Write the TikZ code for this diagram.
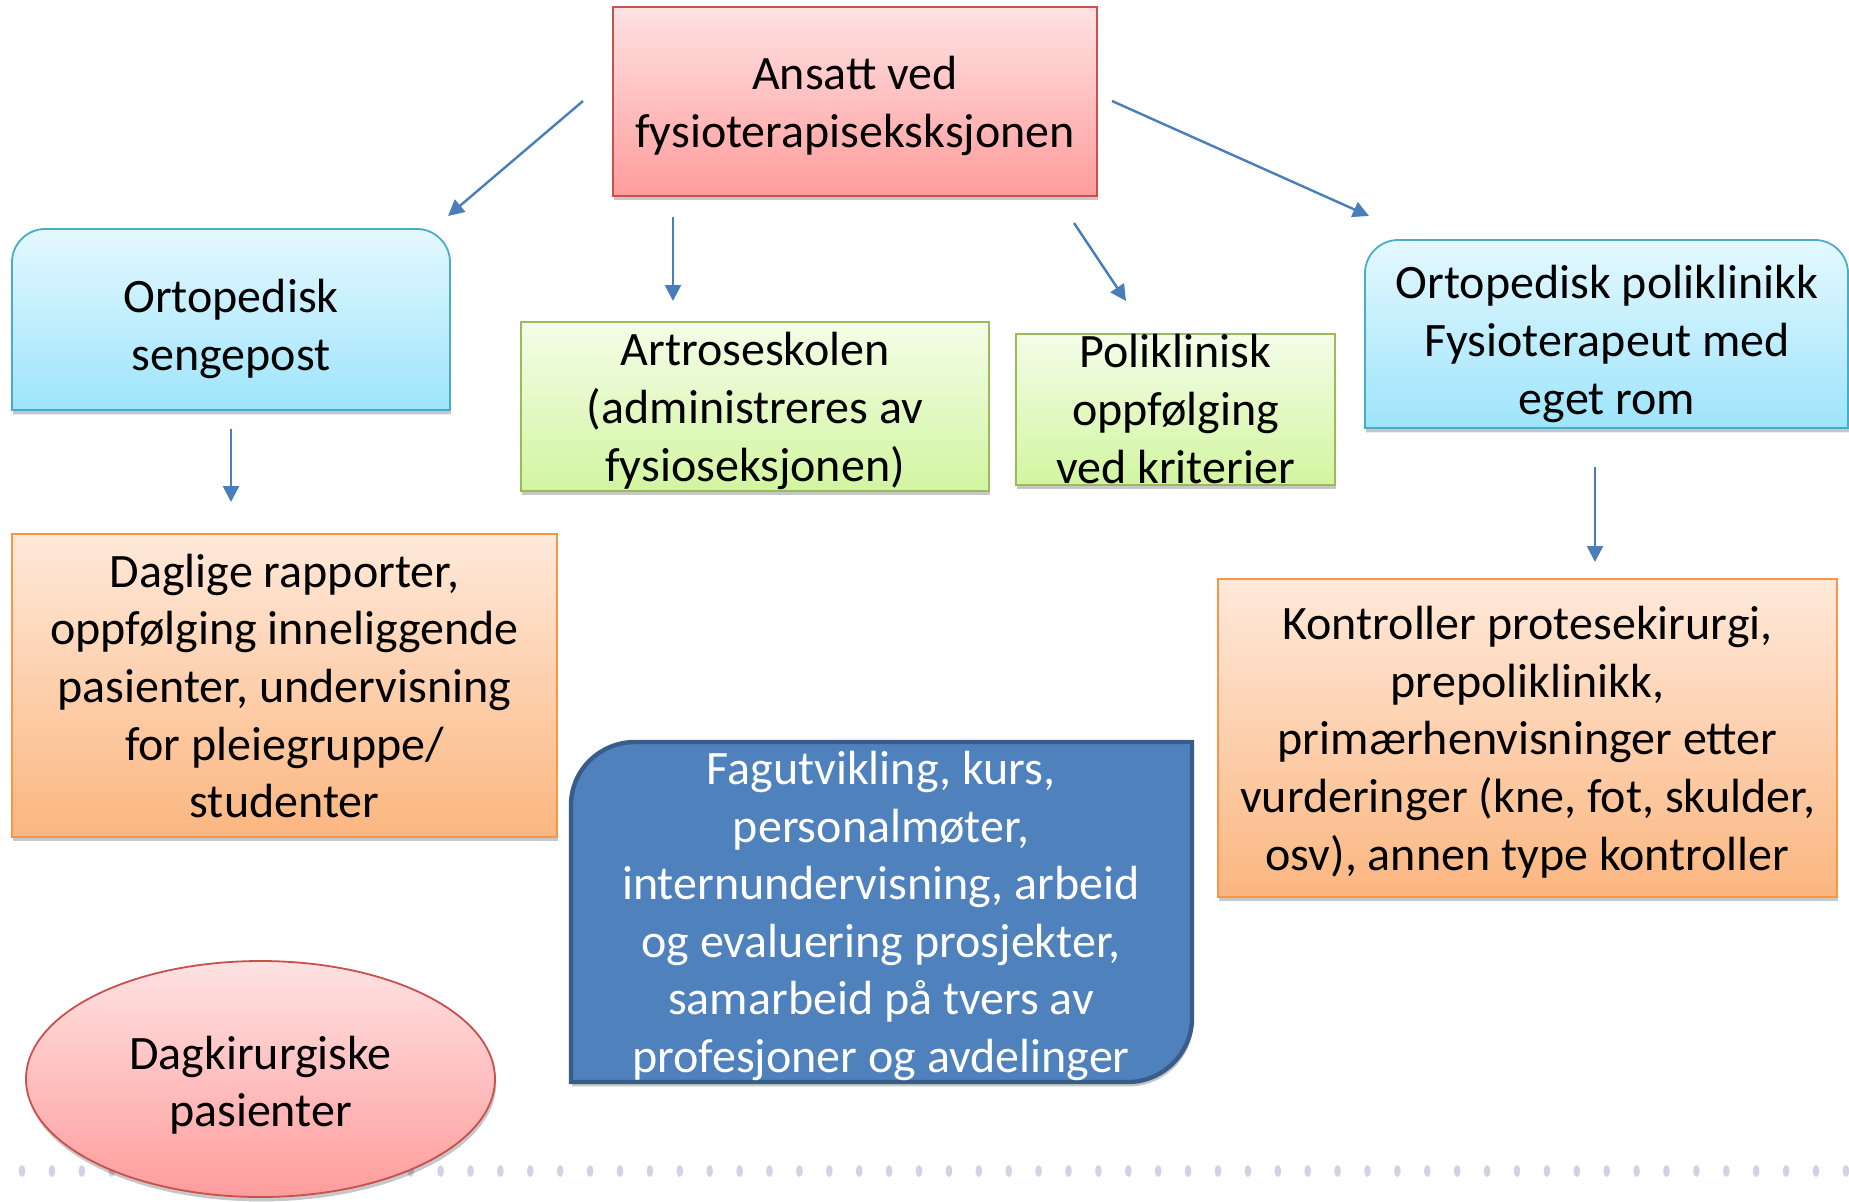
\documentclass[tikz,border=0pt]{standalone}
\usepackage{fontspec}
\setmainfont{Carlito}
\usetikzlibrary{shadows,arrows.meta}
\definecolor{arrowblue}{HTML}{4A7EBB}
\definecolor{pinktop}{HTML}{FFE2E2}
\definecolor{pinkbot}{HTML}{FF9C9C}
\definecolor{pinkline}{HTML}{C8504D}
\definecolor{cyantop}{HTML}{E4F8FF}
\definecolor{cyanbot}{HTML}{9EE4FB}
\definecolor{cyanline}{HTML}{4BACC6}
\definecolor{greentop}{HTML}{F4FDE8}
\definecolor{greenbot}{HTML}{D2F5A0}
\definecolor{greenline}{HTML}{9BBB59}
\definecolor{orangetop}{HTML}{FFE9DA}
\definecolor{orangebot}{HTML}{FBB680}
\definecolor{orangeline}{HTML}{F79646}
\definecolor{darkfill}{HTML}{4F81BD}
\definecolor{darkline}{HTML}{385D8A}
\definecolor{dotcol}{HTML}{D2D2E4}
\tikzset{
  shad/.style={drop shadow={shadow xshift=0.6pt, shadow yshift=-2.2pt, fill=black, opacity=0.22}},
  pinkbox/.style={shad, draw=pinkline, line width=0.9pt, top color=pinktop, bottom color=pinkbot},
  cyanbox/.style={shad, draw=cyanline, line width=0.9pt, top color=cyantop, bottom color=cyanbot},
  greenbox/.style={shad, draw=greenline, line width=0.9pt, top color=greentop, bottom color=greenbot},
  orangebox/.style={shad, draw=orangeline, line width=0.9pt, top color=orangetop, bottom color=orangebot},
  darkbox/.style={shad, draw=darkline, line width=2.2pt, fill=darkfill},
  txt/.style={align=center, inner sep=0pt, font=\fontsize{24}{28.8}\selectfont},
  conn/.style={draw=arrowblue, line width=1.2pt, -{Triangle[length=8pt,width=8pt]}},
}
\begin{document}
\begin{tikzpicture}[x=0.5pt,y=-0.5pt]
\useasboundingbox (0,0) rectangle (1849,1201);
% decorative dotted line
\foreach \k in {0,...,61} {
  \fill[dotcol] (22+\k*29.9,1171) ellipse (3.2 and 6);
}
% top box
\node[pinkbox, rectangle, minimum width=242pt, minimum height=94.5pt, inner sep=0pt] (top) at (855,101.5) {};
\node[txt] (topt) at (855,106) {Ansatt ved\\fysioterapiseksksjonen};
% Ortopedisk sengepost (rounded top corners)
\path[cyanbox] (12,410) -- (12,262) .. controls (12,244) and (27,229) .. (45,229) -- (417,229) .. controls (435,229) and (450,244) .. (450,262) -- (450,410) -- cycle;
\node[txt] (seng) at (231,329) {Ortopedisk\\sengepost};
% Artroseskolen
\node[greenbox, rectangle, minimum width=234pt, minimum height=84.5pt, inner sep=0pt] (artro) at (755,406.5) {};
\node[txt] (artrot) at (755,411) {Artroseskolen\\(administreres av\\fysioseksjonen)};
% Poliklinisk
\node[greenbox, rectangle, minimum width=159.5pt, minimum height=75.5pt, inner sep=0pt] (polik) at (1175.5,409.5) {};
\node[txt] (polikt) at (1175.5,409) {Poliklinisk\\oppfølging\\ved kriterier};
% Ortopedisk poliklinikk (rounded top corners)
\path[cyanbox] (1365,428) -- (1365,273) .. controls (1365,255) and (1380,240) .. (1398,240) -- (1815,240) .. controls (1833,240) and (1848,255) .. (1848,273) -- (1848,428) -- cycle;
\node[txt] (ortp) at (1607,344) {Ortopedisk poliklinikk\\Fysioterapeut med\\eget rom};
% Daglige
\node[orangebox, rectangle, minimum width=272.5pt, minimum height=151.5pt, inner sep=0pt] (dagl) at (284.5,685.5) {};
\node[txt] (daglt) at (284.5,686) {Daglige rapporter,\\oppfølging inneliggende\\pasienter, undervisning\\for pleiegruppe/\\studenter};
% Kontroller
\node[orangebox, rectangle, minimum width=309.5pt, minimum height=159pt, inner sep=0pt] (kontr) at (1527.5,738) {};
\node[txt] (kontrt) at (1527.5,742) {Kontroller protesekirurgi,\\prepoliklinikk,\\primærhenvisninger etter\\vurderinger (kne, fot, skulder,\\osv), annen type kontroller};
% Fagutvikling box (rounded top-left and bottom-right corners)
\path[darkbox] (571,1082) -- (571,805) .. controls (571,770) and (600,742) .. (635,742) -- (1192,742) -- (1192,1018) .. controls (1192,1053) and (1163,1082) .. (1128,1082) -- cycle;
\node[txt, text=white] (fagt) at (881,916) {Fagutvikling, kurs,\\personalmøter,\\internundervisning, arbeid\\og evaluering prosjekter,\\samarbeid på tvers av\\profesjoner og avdelinger};
% Ellipse
\path[pinkbox] (260.5,1079) ellipse (234.5 and 118);
\node[txt] (dagk) at (260.5,1085) {Dagkirurgiske\\pasienter};
% connectors
\coordinate (a1s) at (583,101);  \coordinate (a1e) at (448,216);
\coordinate (a2s) at (673,217);  \coordinate (a2e) at (673,301);
\coordinate (a3s) at (1074,223); \coordinate (a3e) at (1126,301);
\coordinate (a4s) at (1112,101); \coordinate (a4e) at (1369,216);
\coordinate (a5s) at (231,429);  \coordinate (a5e) at (231,502);
\coordinate (a6s) at (1595,467); \coordinate (a6e) at (1595,562);
\draw[conn] (a1s) -- (a1e);
\draw[conn] (a2s) -- (a2e);
\draw[conn] (a3s) -- (a3e);
\draw[conn] (a4s) -- (a4e);
\draw[conn] (a5s) -- (a5e);
\draw[conn] (a6s) -- (a6e);
\end{tikzpicture}
\end{document}
